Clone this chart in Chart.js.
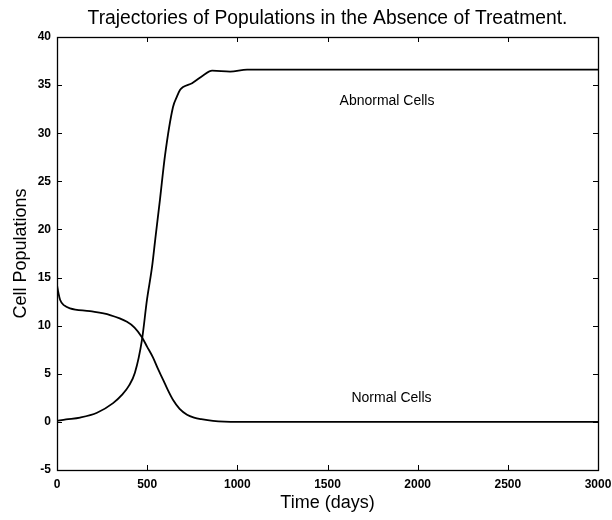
<!DOCTYPE html>
<html>
<head>
<meta charset="utf-8">
<script src="https://cdn.jsdelivr.net/npm/chart.js@4/dist/chart.umd.min.js"></script>
<style>
html,body{margin:0;padding:0;background:#fff;}
#wrap{width:612px;height:520px;}
</style>
</head>
<body>
<div id="wrap"><canvas id="c" width="612" height="520"></canvas></div>
<script>
// ---- Data ----
const abnormalDays = [0, 50, 128, 222, 311, 360, 400, 432, 471, 499, 527, 545, 571, 599, 643, 665, 682, 699, 749, 810, 860, 960, 1054, 1500, 2000, 2500, 3000];
const abnormalVals = [0.1, 0.25, 0.45, 0.95, 1.95, 2.8, 3.8, 5.1, 8.5, 12.7, 16.1, 19.0, 23.1, 27.7, 32.7, 33.8, 34.5, 34.8, 35.2, 36.0, 36.5, 36.4, 36.6, 36.6, 36.6, 36.6, 36.6];
const normalDays = [0, 8, 17, 40, 72, 183, 294, 388, 430, 471, 500, 532, 560, 588, 615, 643, 680, 721, 760, 800, 865, 1000, 1500, 2000, 2500, 3000];
const normalVals = [14.2, 13.4, 12.7, 12.1, 11.8, 11.5, 11.1, 10.4, 9.8, 8.8, 7.8, 6.7, 5.5, 4.4, 3.3, 2.3, 1.35, 0.75, 0.45, 0.28, 0.1, 0.0, 0.0, 0.0, 0.0, 0.0];
const xTicks = [0, 500, 1000, 1500, 2000, 2500, 3000];
const yTicks = [-5, 0, 5, 10, 15, 20, 25, 30, 35, 40];
const titleText = 'Trajectories of Populations in the Absence of Treatment.';
const curveLabels = ["Abnormal Cells", "Normal Cells"];
const curveLabelAt = [[1830, 33.3], [1855, 2.5]];

const FONT = "'Liberation Sans', Arial, Helvetica, sans-serif";

const toPts = (xs, ys) => xs.map((x, i) => ({x: x, y: ys[i]}));

const frame = {
  id: 'frame',
  afterDraw(chart) {
    const {ctx, chartArea: a, scales} = chart;
    const xs = scales.x, ys = scales.y;
    ctx.save();
    ctx.strokeStyle = '#000';
    ctx.lineWidth = 1.3;
    ctx.strokeRect(Math.round(a.left) + 0.5, Math.round(a.top) + 0.5, Math.round(a.right - a.left), Math.round(a.bottom - a.top));
    const tl = 5;
    ctx.lineWidth = 1;
    ctx.beginPath();
    xTicks.forEach(v => {
      const px = Math.round(xs.getPixelForValue(v)) + 0.5;
      ctx.moveTo(px, a.bottom); ctx.lineTo(px, a.bottom - tl);
      ctx.moveTo(px, a.top); ctx.lineTo(px, a.top + tl);
    });
    yTicks.forEach(v => {
      const py = Math.round(ys.getPixelForValue(v)) + 0.5;
      ctx.moveTo(a.left, py); ctx.lineTo(a.left + tl, py);
      ctx.moveTo(a.right, py); ctx.lineTo(a.right - tl, py);
    });
    ctx.stroke();
    ctx.fillStyle = '#000';
    ctx.textAlign = 'center';
    ctx.textBaseline = 'middle';
    ctx.font = '19.3px ' + FONT;
    ctx.fillText(titleText, (a.left + a.right) / 2, 19);
    ctx.font = '14px ' + FONT;
    curveLabels.forEach((t, i) => {
      ctx.fillText(t, xs.getPixelForValue(curveLabelAt[i][0]), ys.getPixelForValue(curveLabelAt[i][1]));
    });
    ctx.restore();
  }
};

new Chart(document.getElementById('c'), {
  type: 'line',
  data: {
    datasets: [
      {label: 'Abnormal Cells', data: toPts(abnormalDays, abnormalVals), borderColor: '#000', borderWidth: 1.8, pointRadius: 0, cubicInterpolationMode: 'monotone', fill: false},
      {label: 'Normal Cells', data: toPts(normalDays, normalVals), borderColor: '#000', borderWidth: 1.8, pointRadius: 0, cubicInterpolationMode: 'monotone', fill: false}
    ]
  },
  options: {
    responsive: false,
    animation: false,
    devicePixelRatio: 1,
    layout: {padding: {left: 0, right: 14, top: 37, bottom: 0}},
    plugins: {
      legend: {display: false},
      tooltip: {enabled: false},
      title: {display: false}
    },
    scales: {
      x: {
        type: 'linear', min: 0, max: 3000,
        afterBuildTicks(s) { s.ticks = xTicks.map(v => ({value: v})); },
        afterFit(s) { s.height = 50; s.paddingLeft = 0; s.paddingRight = 0; },
        grid: {display: false, drawTicks: false},
        border: {display: false},
        ticks: {color: '#000', padding: 7, font: {family: FONT, size: 12, weight: 'bold'}, maxRotation: 0, callback: v => String(v)},
        title: {display: true, text: 'Time (days)', color: '#000', font: {family: FONT, size: 18}, padding: {top: 0, bottom: 6}}
      },
      y: {
        type: 'linear', min: -5, max: 40,
        afterBuildTicks(s) { s.ticks = yTicks.map(v => ({value: v})); },
        afterFit(s) { s.width = 57; s.paddingTop = 0; s.paddingBottom = 0; },
        grid: {display: false, drawTicks: false},
        border: {display: false},
        ticks: {color: '#000', padding: 6, font: {family: FONT, size: 12, weight: 'bold'}, callback: v => String(v)},
        title: {display: true, text: 'Cell Populations', color: '#000', font: {family: FONT, size: 18}, padding: {top: 10, bottom: 0}}
      }
    }
  },
  plugins: [frame]
});
</script>
</body>
</html>
